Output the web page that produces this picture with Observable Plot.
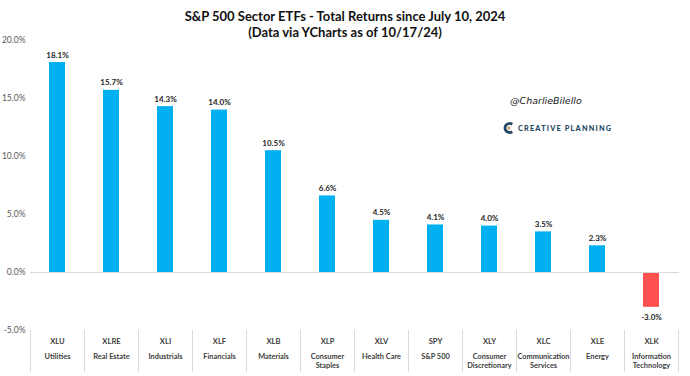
<!DOCTYPE html>
<html>
<head>
<meta charset="utf-8">
<script src="https://cdn.jsdelivr.net/npm/d3@7"></script>
<script src="https://cdn.jsdelivr.net/npm/@observablehq/plot@0.6"></script>
<style>
  body { margin: 0; background: #fff; font-family: Lato, "Liberation Sans", sans-serif; }
  #wrap { position: relative; width: 690px; height: 376px; overflow: hidden; }
  #title { height: 36px; box-sizing: border-box; padding-top: 8px; text-align: center; font-weight: bold; font-size: 13px; line-height: 16px; color: #111; overflow: visible; white-space: nowrap; position: relative; z-index: 2; }
  #handle { position: absolute; left: 510px; top: 95px; font-family: "DejaVu Sans", sans-serif; font-style: italic; font-size: 9.5px; color: #222; z-index: 2; }
  #logo { position: absolute; left: 503px; top: 122px; font-family: Lato, sans-serif; font-weight: 900; font-size: 7.3px; letter-spacing: 1.2px; color: #1f4766; z-index: 2; display: flex; align-items: center; gap: 4px; }
</style>
</head>
<body>
<div id="wrap">
  <div id="title">S&amp;P 500 Sector ETFs - Total Returns since July 10, 2024<br>(Data via YCharts as of 10/17/24)</div>
  <div id="chart"></div>
  <div id="handle">@CharlieBilello</div>
  <div id="logo"><svg width="11" height="12" viewBox="0 0 11 12"><path d="M9.2 2.4 A4.5 4.5 0 1 0 9.2 9.6" fill="none" stroke="#1f4766" stroke-width="2.8"/><rect x="4.4" y="4.6" width="2.8" height="2.8" transform="rotate(45 5.8 6)" fill="#c9a26b"/></svg><span>CREATIVE PLANNING</span></div>
</div>
<script>
const tickers = ["XLU","XLRE","XLI","XLF","XLB","XLP","XLV","SPY","XLY","XLC","XLE","XLK"];
const sectors = ["Utilities","Real Estate","Industrials","Financials","Materials","Consumer\nStaples","Health Care","S&P 500","Consumer\nDiscretionary","Communication\nServices","Energy","Information\nTechnology"];
const returns = [18.1, 15.7, 14.3, 14.0, 10.5, 6.6, 4.5, 4.1, 4.0, 3.5, 2.3, -3.0];
const yTicks = [-5, 0, 5, 10, 15, 20];

const data = tickers.map((t, i) => ({ticker: t, sector: sectors[i], value: returns[i]}));
const fmt = d => d.toFixed(1) + "%";

const plot = Plot.plot({
  width: 690,
  height: 340,
  marginTop: 4,
  marginBottom: 46,
  marginLeft: 30,
  marginRight: 11,
  style: {fontFamily: "Lato, 'Liberation Sans', sans-serif", background: "white", overflow: "visible"},
  x: {domain: tickers, paddingInner: 0.7, paddingOuter: 0.35, axis: null},
  y: {domain: [-5, 20], axis: null},
  marks: [
    Plot.axisY({ticks: yTicks, tickFormat: fmt, tickSize: 0, tickPadding: 5, fontSize: 8.5, fill: "#595959", label: null}),
    Plot.barY(data, {x: "ticker", y: "value", fill: d => d.value < 0 ? "#FF5050" : "#00B0F0"}),
    Plot.ruleY([0], {stroke: "#d9d9d9", strokeWidth: 1}),
    Plot.text(data.filter(d => d.value >= 0), {x: "ticker", y: "value", text: d => fmt(d.value), dy: -7.5, fontSize: 8, fontWeight: "bold", fill: "#262626"}),
    Plot.text(data.filter(d => d.value < 0), {x: "ticker", y: "value", text: d => fmt(d.value), dy: 10, fontSize: 8, fontWeight: "bold", fill: "#262626"}),
    Plot.text(data, {x: "ticker", frameAnchor: "bottom", dy: 11, text: "ticker", fontSize: 7.6, fontWeight: "bold", fill: "#404040", lineAnchor: "middle"}),
    Plot.text(data, {x: "ticker", frameAnchor: "bottom", dy: 21.5, text: "sector", fontSize: 7.4, fontWeight: "bold", fill: "#404040", lineAnchor: "top", lineHeight: 1.3})
  ]
});

document.getElementById("chart").appendChild(plot);

// band separators in the label area, positioned from the x scale
const sx = plot.scale("x");
const step = sx.step ?? (690 - 30 - 11) / tickers.length;
const bw = sx.bandwidth ?? step * 0.3;
const first = sx.apply(tickers[0]);
const x0 = first - (step - bw) / 2;
const svg = d3.select(plot);
const g = svg.append("g").attr("stroke", "#d9d9d9").attr("stroke-width", 1);
for (let k = 0; k <= tickers.length; k++) {
  const xp = Math.round(x0 + k * step) + 0.5;
  g.append("line").attr("x1", xp).attr("x2", xp).attr("y1", 294).attr("y2", 336);
}
</script>
</body>
</html>
